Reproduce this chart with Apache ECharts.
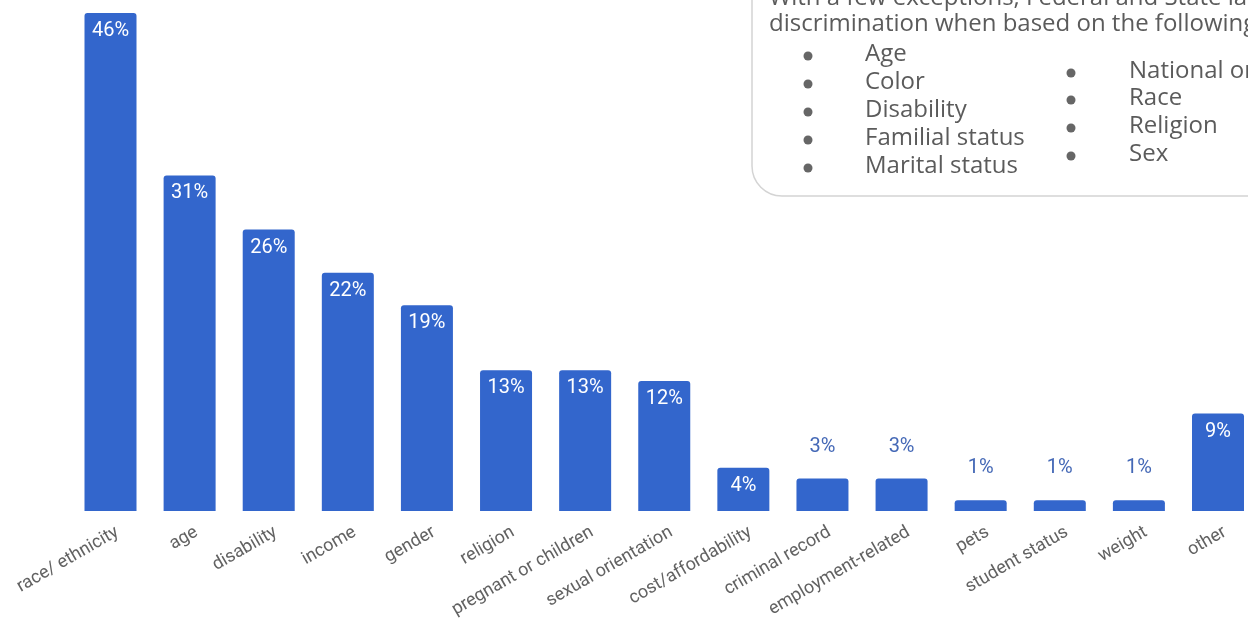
<!DOCTYPE html>
<html>
<head>
<meta charset="utf-8">
<title>Reported reasons for housing discrimination</title>
<script src="https://cdn.jsdelivr.net/npm/echarts@6/dist/echarts.min.js"></script>
<style>
  html, body { margin: 0; padding: 0; background: #ffffff; }
  #chart { width: 1248px; height: 622px; }
</style>
</head>
<body>
<div id="chart"></div>
<script>
// Share of respondents citing each basis of discrimination (%)
const categories = [
  'race/ ethnicity', 'age', 'disability', 'income', 'gender', 'religion',
  'pregnant or children', 'sexual orientation', 'cost/affordability',
  'criminal record', 'employment-related', 'pets', 'student status', 'weight', 'other'
];
const shares = [46, 31, 26, 22, 19, 13, 13, 12, 4, 3, 3, 1, 1, 1, 9];

// Protected classes listed in the note box, two columns
const noteLines = [
  'With a few exceptions, Federal and State laws prohibit housing',
  'discrimination when based on the following characteristics:'
];
const protectedLeft = ['Age', 'Color', 'Disability', 'Familial status', 'Marital status'];
const protectedRight = ['National origin', 'Race', 'Religion', 'Sex'];

const BAR_COLOR = '#3366cc';
const INSIDE_MIN = 4; // bars at least this tall carry their label inside
const LABEL_FONT = 'Roboto, "Liberation Sans", sans-serif';

const chart = echarts.init(document.getElementById('chart'), null, { renderer: 'canvas' });

const barData = shares.map(v => {
  const inside = v >= INSIDE_MIN;
  return {
    value: v,
    label: inside
      ? { position: 'insideTop', distance: 8, color: '#ffffff' }
      : { position: 'top', distance: 22, color: '#4468b6' }
  };
});

// Note box graphics
const boxFont = '"Open Sans", "DejaVu Sans", sans-serif';
const textColor = '#5b5b5b';
const graphics = [
  {
    type: 'rect',
    shape: { x: 752, y: -60, width: 640, height: 256, r: 30 },
    style: { fill: '#ffffff', stroke: '#d4d4d4', lineWidth: 1.5 },
    z: 10
  }
];
const lineYs = [-2, 24];
noteLines.forEach((t, i) => {
  graphics.push({
    type: 'text', x: 769, y: lineYs[i], z: 11,
    style: { text: t, font: '24px ' + boxFont, fill: textColor, verticalAlign: 'middle' }
  });
});
const leftYs = [54, 82, 110, 138, 166];
protectedLeft.forEach((t, i) => {
  graphics.push({
    type: 'circle', z: 11,
    shape: { cx: 808, cy: leftYs[i] + 2, r: 4.5 },
    style: { fill: '#666666' }
  });
  graphics.push({
    type: 'text', x: 865, y: leftYs[i], z: 11,
    style: { text: t, font: '24px ' + boxFont, fill: textColor, verticalAlign: 'middle' }
  });
});
const rightYs = [71, 98, 126, 154];
protectedRight.forEach((t, i) => {
  graphics.push({
    type: 'circle', z: 11,
    shape: { cx: 1071, cy: rightYs[i] + 2, r: 4.5 },
    style: { fill: '#666666' }
  });
  graphics.push({
    type: 'text', x: 1129, y: rightYs[i], z: 11,
    style: { text: t, font: '24px ' + boxFont, fill: textColor, verticalAlign: 'middle' }
  });
});

// Two grids share the same geometry; the second one carries the category
// labels, nudged a few pixels right so each label ends just past its bar centre.
const PLOT_LEFT = 110.5;
const PLOT_RIGHT = 30;
const LABEL_SHIFT = 7;

chart.setOption({
  animation: false,
  backgroundColor: '#ffffff',
  grid: [
    { left: PLOT_LEFT, right: PLOT_RIGHT, top: 13, bottom: 111, containLabel: false },
    { left: PLOT_LEFT + LABEL_SHIFT, right: PLOT_RIGHT - LABEL_SHIFT, top: 13, bottom: 111, containLabel: false }
  ],
  xAxis: [
    {
      type: 'category',
      gridIndex: 0,
      data: categories,
      boundaryGap: false,
      axisLine: { show: false },
      axisTick: { show: false },
      axisLabel: { show: false }
    },
    {
      type: 'category',
      gridIndex: 1,
      data: categories,
      boundaryGap: false,
      axisLine: { show: false },
      axisTick: { show: false },
      axisLabel: {
        interval: 0,
        rotate: 30,
        margin: 20,
        color: '#626262',
        fontSize: 18,
        fontFamily: LABEL_FONT
      }
    }
  ],
  yAxis: [
    { type: 'value', gridIndex: 0, min: 0, max: 46, show: false },
    { type: 'value', gridIndex: 1, min: 0, max: 46, show: false }
  ],
  series: [{
    type: 'bar',
    xAxisIndex: 0,
    yAxisIndex: 0,
    data: barData,
    barWidth: 52,
    itemStyle: { color: BAR_COLOR, borderRadius: [3, 3, 0, 0] },
    label: {
      show: true,
      formatter: p => p.value + '%',
      fontSize: 20,
      fontFamily: LABEL_FONT
    }
  }],
  graphic: graphics
});
</script>
</body>
</html>
